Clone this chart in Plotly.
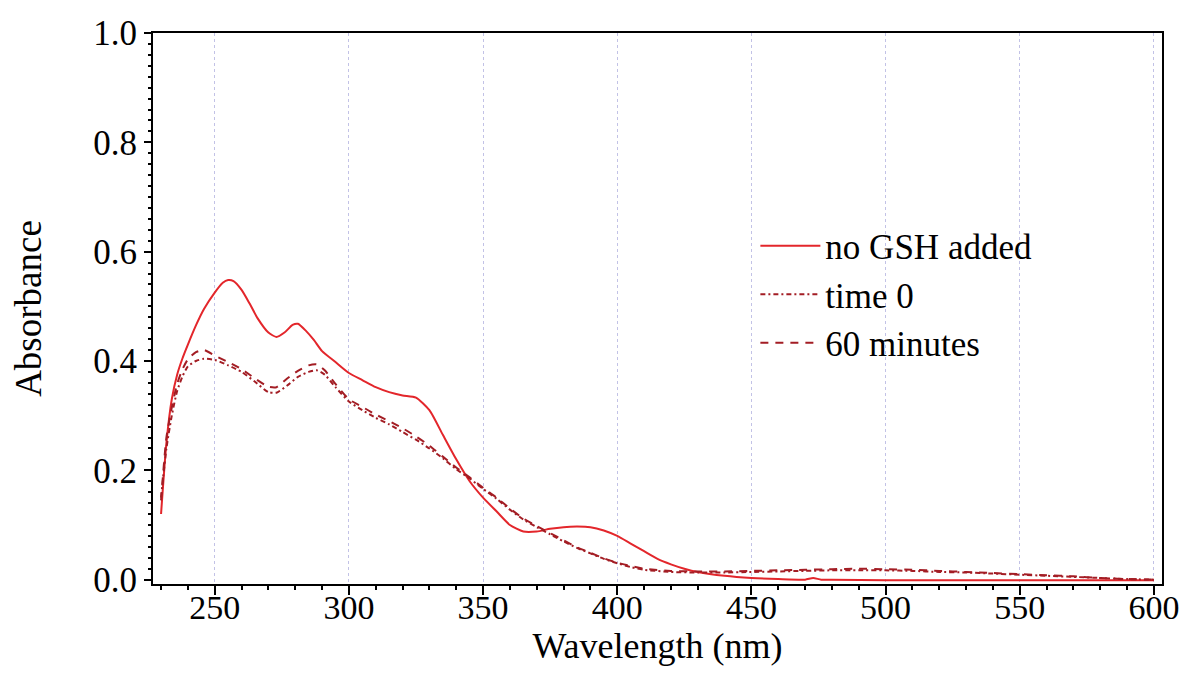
import plotly.graph_objects as go

# ---------------- data ----------------
wl_solid = [230, 232, 234, 236, 238, 240, 243, 246, 250, 253, 255, 257, 260, 263, 266, 270, 273,
            276, 279, 281, 284, 287, 290, 295, 300, 305, 310, 315, 320, 325, 330, 335, 340, 345,
            350, 355, 360, 365, 370, 375, 380, 385, 390, 395, 400, 405, 410, 415, 420, 425, 430,
            440, 450, 460, 470, 473, 476, 480, 500, 520, 540, 560, 580, 600]
abs_no_gsh = [0.12, 0.25, 0.33, 0.375, 0.405, 0.43, 0.465, 0.495, 0.525, 0.543, 0.548, 0.546, 0.53,
              0.505, 0.478, 0.452, 0.444, 0.452, 0.466, 0.468, 0.455, 0.438, 0.418, 0.398, 0.378,
              0.365, 0.352, 0.343, 0.337, 0.333, 0.31, 0.265, 0.22, 0.18, 0.15, 0.125, 0.1, 0.088,
              0.088, 0.093, 0.096, 0.097, 0.096, 0.09, 0.08, 0.066, 0.052, 0.038, 0.028, 0.02,
              0.014, 0.007, 0.003, 0.001, 0.0, 0.003, 0.0, 0.0, -0.001, -0.001, -0.001, -0.001,
              -0.001, -0.001]

wl = [230, 232, 234, 236, 238, 240, 243, 246, 250, 255, 260, 265, 270, 273, 277, 281, 285, 288,
      291, 295, 300, 305, 310, 315, 320, 325, 330, 335, 340, 345, 350, 355, 360, 365, 370, 375,
      380, 385, 390, 395, 400, 405, 410, 420, 430, 440, 450, 460, 470, 480, 490, 500, 510, 520,
      530, 540, 550, 560, 570, 580, 590, 600]
abs_time0 = [0.15, 0.24, 0.3, 0.345, 0.372, 0.39, 0.4, 0.404, 0.402, 0.392, 0.38, 0.362, 0.343,
             0.342, 0.355, 0.371, 0.38, 0.383, 0.375, 0.352, 0.326, 0.31, 0.296, 0.284, 0.27,
             0.256, 0.24, 0.222, 0.202, 0.185, 0.166, 0.148, 0.128, 0.11, 0.096, 0.083, 0.07,
             0.058, 0.048, 0.038, 0.03, 0.023, 0.018, 0.014, 0.013, 0.013, 0.014, 0.015, 0.016,
             0.017, 0.017, 0.017, 0.016, 0.014, 0.013, 0.011, 0.009, 0.007, 0.005, 0.003, 0.001,
             0.0]
abs_60min = [0.145, 0.26, 0.315, 0.358, 0.385, 0.403, 0.416, 0.42, 0.41, 0.398, 0.385, 0.368,
             0.353, 0.352, 0.368, 0.382, 0.392, 0.394, 0.383, 0.358, 0.33, 0.316, 0.302, 0.29,
             0.277, 0.262, 0.245, 0.225, 0.205, 0.187, 0.168, 0.15, 0.13, 0.112, 0.098, 0.085,
             0.072, 0.059, 0.049, 0.039, 0.031, 0.025, 0.02, 0.016, 0.015, 0.015, 0.016, 0.017,
             0.018, 0.019, 0.02, 0.019, 0.018, 0.016, 0.014, 0.012, 0.01, 0.008, 0.006, 0.003,
             0.001, 0.0]

series_names = ["no GSH added", "time 0", "60 minutes"]
x_ticks = [250, 300, 350, 400, 450, 500, 550, 600]
y_ticks = [0.0, 0.2, 0.4, 0.6, 0.8, 1.0]
y_ticklabels = ["0.0", "0.2", "0.4", "0.6", "0.8", "1.0"]

FONT = "Liberation Serif"
RED = "#e3262b"
DARK = "#a31d24"

fig = go.Figure()
fig.add_trace(go.Scatter(x=wl_solid, y=abs_no_gsh, name=series_names[0], mode="lines",
                         line=dict(color=RED, width=2, shape="spline", smoothing=0.6)))
fig.add_trace(go.Scatter(x=wl, y=abs_time0, name=series_names[1], mode="lines",
                         line=dict(color=DARK, width=2, dash="5px,3px,2px,3px",
                                   shape="spline", smoothing=0.6)))
fig.add_trace(go.Scatter(x=wl, y=abs_60min, name=series_names[2], mode="lines",
                         line=dict(color=DARK, width=2, dash="8px,7px",
                                   shape="spline", smoothing=0.6)))

xr = [227, 603]
yr = [-0.008, 1.0]

fig.update_layout(
    width=1186, height=673,
    margin=dict(l=153, r=24, t=33, b=89, autoexpand=False),
    paper_bgcolor="white", plot_bgcolor="white",
    font=dict(family=FONT, size=35, color="black"),
    showlegend=True,
    legend=dict(x=0.597, y=0.667, xanchor="left", yanchor="top",
                bgcolor="rgba(0,0,0,0)", font=dict(family=FONT, size=35, color="black"),
                itemwidth=60, tracegroupgap=0),
    xaxis=dict(
        range=xr, tickmode="array", tickvals=x_ticks, ticktext=[str(v) for v in x_ticks],
        ticks="outside", ticklen=9, tickwidth=2, tickcolor="black",
        ticklabelstandoff=-17,
        minor=dict(dtick=10, tick0=0, ticks="outside", ticklen=4, tickwidth=2,
                   tickcolor="black", showgrid=False),
        showline=True, linewidth=2, linecolor="black", mirror=True,
        showgrid=True, gridcolor="#c2c2e6", gridwidth=1, griddash="dot",
        zeroline=False, automargin=False,
        tickfont=dict(family=FONT, size=34, color="black"),
        title=dict(text="Wavelength (nm)", font=dict(family=FONT, size=36, color="black"),
                   standoff=6),
    ),
    yaxis=dict(
        range=yr, tickmode="array", tickvals=y_ticks, ticktext=y_ticklabels,
        ticks="outside", ticklen=7, tickwidth=2, tickcolor="black",
        minor=dict(dtick=0.02, tick0=0, ticks="outside", ticklen=3, tickwidth=2,
                   tickcolor="black", showgrid=False),
        showline=True, linewidth=2, linecolor="black", mirror=True,
        showgrid=False, zeroline=False, automargin=False,
        tickfont=dict(family=FONT, size=35, color="black"),
        title=dict(text="Absorbance", font=dict(family=FONT, size=37, color="black"),
                   standoff=40),
    ),
    xaxis2=dict(range=xr, overlaying="x", anchor="y", side="bottom",
                tickvals=x_ticks, showticklabels=False, ticks="inside", ticklen=3,
                tickwidth=2, tickcolor="black", automargin=False,
                minor=dict(dtick=10, tick0=0, ticks="inside", ticklen=3, tickwidth=2,
                           tickcolor="black"),
                showgrid=False, zeroline=False, showline=False),
    yaxis2=dict(range=yr, overlaying="y", anchor="x", side="left",
                tickvals=y_ticks, showticklabels=False, ticks="inside", ticklen=3,
                tickwidth=2, tickcolor="black", automargin=False,
                minor=dict(dtick=0.02, tick0=0, ticks="inside", ticklen=3, tickwidth=2,
                           tickcolor="black"),
                showgrid=False, zeroline=False, showline=False),
)

fig.write_html("out.html")
